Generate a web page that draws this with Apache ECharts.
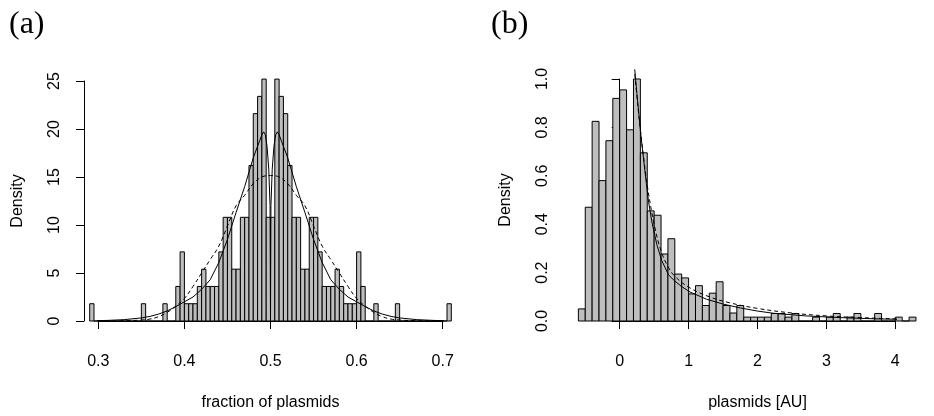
<!DOCTYPE html>
<html>
<head>
<meta charset="utf-8">
<script src="https://cdn.jsdelivr.net/npm/echarts@6/dist/echarts.min.js"></script>
<style>
  html, body { margin: 0; padding: 0; background: #fff; }
  #main { width: 934px; height: 416px; }
</style>
</head>
<body>
<div id="main"></div>
<script>
// (a) histogram: bins of 0.005 starting at 0.29, density per bin
var binStartA = 0.29;
var binWidthA = 0.005;
var densA = [
  1.8, 0,
  0, 0, 0, 0, 0, 0, 0, 0, 0, 0,
  1.8, 0, 0, 0, 0,
  1.8, 0, 0,
  3.6, 7.2,
  1.8, 1.8, 1.8, 3.6, 5.4, 3.6, 3.6, 3.6, 7.2, 10.8, 10.8, 5.4, 5.4, 10.8, 10.8, 16.2, 21.6, 23.4, 25.2, 10.8,
  10.8, 25.2, 23.4, 21.6, 16.2, 10.8, 10.8, 5.4, 5.4, 10.8, 10.8, 7.2, 3.6, 3.6, 3.6, 5.4, 3.6, 1.8, 1.8, 1.8,
  7.2, 3.6, 0, 0, 1.8, 0, 0, 0, 0, 1.8,
  0, 0, 0, 0, 0, 0, 0, 0, 0, 0, 0,
  1.8
];
// (a) fitted densities
var solidA = [
  [0.284, 0.02], [0.31, 0.06], [0.33, 0.14], [0.35, 0.32], [0.36, 0.48], [0.37, 0.72], [0.38, 1.05],
  [0.39, 1.5], [0.40, 2.0], [0.41, 2.5], [0.42, 3.3], [0.43, 4.3], [0.44, 6.1], [0.45, 8.5],
  [0.46, 11.3], [0.47, 14.0], [0.48, 17.0], [0.49, 19.4], [0.492, 19.7], [0.494, 19.4], [0.496, 18.2],
  [0.498, 15.8], [0.4995, 12.0], [0.5, 0],
  [0.5005, 12.0], [0.502, 15.8], [0.504, 18.2], [0.506, 19.4], [0.508, 19.7], [0.51, 19.4], [0.52, 17.0],
  [0.53, 14.0], [0.54, 11.3], [0.55, 8.5], [0.56, 6.1], [0.57, 4.3], [0.58, 3.3], [0.59, 2.5],
  [0.60, 2.0], [0.61, 1.5], [0.62, 1.05], [0.63, 0.72], [0.64, 0.48], [0.65, 0.32], [0.67, 0.14],
  [0.69, 0.06], [0.716, 0.02]
];
var dashedA = [
  [0.284, 0], [0.30, 0.005], [0.33, 0.03], [0.35, 0.1], [0.36, 0.2], [0.37, 0.45], [0.38, 0.9],
  [0.39, 1.55], [0.40, 2.35], [0.41, 3.6], [0.42, 5.0], [0.43, 6.4], [0.44, 7.8], [0.45, 9.9],
  [0.46, 12.0], [0.47, 13.1], [0.48, 14.3], [0.49, 15.0], [0.50, 15.15],
  [0.51, 15.0], [0.52, 14.3], [0.53, 13.1], [0.54, 12.0], [0.55, 9.9], [0.56, 7.8], [0.57, 6.4],
  [0.58, 5.0], [0.59, 3.6], [0.60, 2.35], [0.61, 1.55], [0.62, 0.9], [0.63, 0.45], [0.64, 0.2],
  [0.65, 0.1], [0.67, 0.03], [0.70, 0.005], [0.716, 0]
];
var xTicksA = ['0.3', '0.4', '0.5', '0.6', '0.7'];
var yTicksA = ['0', '5', '10', '15', '20', '25'];

// (b) histogram: bins of 0.1 starting at -0.6
var binStartB = -0.6;
var binWidthB = 0.1;
var densB = [
  0.05, 0.47, 0.825, 0.58, 0.745, 0.92, 0.955, 0.79, 1.0, 0.695,
  0.455, 0.437, 0.277, 0.34, 0.194, 0.178, 0.112, 0.146, 0.064, 0.115,
  0.162, 0.064, 0.033, 0.064, 0.016, 0.016, 0.016, 0.016, 0.031, 0.031,
  0.016, 0.031, 0, 0, 0.016, 0, 0.016, 0.031, 0, 0.016,
  0.031, 0, 0, 0.031, 0, 0, 0.016, 0, 0.016
];
var solidB = [
  [0.218, 1.04], [0.25, 0.94], [0.28, 0.85], [0.31, 0.76], [0.35, 0.66], [0.38, 0.585], [0.42, 0.49],
  [0.47, 0.405], [0.54, 0.315], [0.61, 0.25], [0.71, 0.19], [0.8, 0.165], [0.9, 0.142], [1.02, 0.12],
  [1.26, 0.09], [1.5, 0.07], [1.75, 0.054], [2.0, 0.041], [2.23, 0.032], [2.7, 0.021], [3.2, 0.014],
  [3.7, 0.009], [4.2, 0.006], [4.7, 0.004]
];
var dashedB = [
  [0.218, 1.02], [0.26, 0.9], [0.3, 0.79], [0.35, 0.67], [0.4, 0.56], [0.5, 0.4], [0.6, 0.29],
  [0.7, 0.225], [0.8, 0.185], [1.0, 0.14], [1.3, 0.1], [1.6, 0.075], [2.0, 0.052], [2.5, 0.033],
  [3.0, 0.021], [3.5, 0.014], [4.0, 0.009], [4.7, 0.005]
];
var xTicksB = ['0', '1', '2', '3', '4'];
var yTicksB = ['0.0', '0.2', '0.4', '0.6', '0.8', '1.0'];

var font = 'Liberation Sans, Arial, sans-serif';

function binRows(start, width, dens) {
  return dens.map(function (d, i) {
    return [start + i * width, start + (i + 1) * width, d];
  });
}

function renderBar(params, api) {
  var a = api.coord([api.value(0), 0]);
  var b = api.coord([api.value(1), api.value(2)]);
  return {
    type: 'rect',
    shape: { x: a[0], y: b[1], width: b[0] - a[0], height: a[1] - b[1] },
    style: { fill: '#bebebe', stroke: '#000', lineWidth: 1 }
  };
}

function tickFmt(labels, min, step) {
  return function (v) { return labels[Math.round((v - min) / step)]; };
}

function xAxisOf(idx, min, max, step, labels, name) {
  return {
    gridIndex: idx, type: 'value', min: min, max: max, interval: step, offset: 10,
    axisLine: { lineStyle: { color: '#000', width: 1 } },
    axisTick: { length: 8, lineStyle: { color: '#000', width: 1 } },
    axisLabel: { color: '#000', fontSize: 16, fontFamily: font, margin: 23,
      formatter: tickFmt(labels, min, step) },
    splitLine: { show: false },
    name: name, nameLocation: 'middle', nameGap: 64,
    nameTextStyle: { color: '#000', fontSize: 16, fontFamily: font }
  };
}

function yAxisOf(idx, min, max, step, labels, offset) {
  return {
    gridIndex: idx, type: 'value', min: min, max: max, interval: step, offset: offset,
    axisLine: { show: true, lineStyle: { color: '#000', width: 1 } },
    axisTick: { show: true, length: 8, lineStyle: { color: '#000', width: 1 } },
    axisLabel: { color: '#000', fontSize: 16, fontFamily: font, margin: 21, rotate: 90,
      formatter: tickFmt(labels, min, step) },
    splitLine: { show: false },
    name: 'Density', nameLocation: 'middle', nameGap: 58,
    nameTextStyle: { color: '#000', fontSize: 16, fontFamily: font }
  };
}

function curve(xi, data, dashed) {
  return {
    type: 'line', xAxisIndex: xi, yAxisIndex: xi, data: data, clip: false,
    showSymbol: false, symbol: 'none', smooth: dashed ? 0.4 : false, silent: true,
    lineStyle: { color: '#000', width: 1, type: dashed ? [4, 3] : 'solid' }
  };
}

var chart = echarts.init(document.getElementById('main'), null, { renderer: 'canvas' });
chart.setOption({
  animation: false,
  backgroundColor: '#fff',
  title: [
    { text: '(a)', left: 4, top: 4, textStyle: { fontFamily: 'Liberation Serif, serif', fontSize: 32, fontWeight: 'normal', color: '#000' } },
    { text: '(b)', left: 486, top: 4, textStyle: { fontFamily: 'Liberation Serif, serif', fontSize: 32, fontWeight: 'normal', color: '#000' } }
  ],
  grid: [
    { left: 98.3, top: 81, width: 344.4, height: 241 },
    { left: 619.7, top: 79, width: 275.6, height: 243.3 }
  ],
  xAxis: [
    xAxisOf(0, 0.3, 0.7, 0.1, xTicksA, 'fraction of plasmids'),
    xAxisOf(1, 0, 4, 1, xTicksB, 'plasmids [AU]')
  ],
  yAxis: [
    yAxisOf(0, 0, 25, 5, yTicksA, 14.3),
    yAxisOf(1, 0, 1, 0.2, yTicksB, 48)
  ],
  series: [
    { type: 'custom', xAxisIndex: 0, yAxisIndex: 0, clip: false, silent: true,
      data: binRows(binStartA, binWidthA, densA), encode: { x: [0, 1], y: 2 }, renderItem: renderBar },
    curve(0, solidA, false),
    curve(0, dashedA, true),
    { type: 'custom', xAxisIndex: 1, yAxisIndex: 1, clip: false, silent: true,
      data: binRows(binStartB, binWidthB, densB), encode: { x: [0, 1], y: 2 }, renderItem: renderBar },
    curve(1, solidB, false),
    curve(1, dashedB, true)
  ]
});
</script>
</body>
</html>
